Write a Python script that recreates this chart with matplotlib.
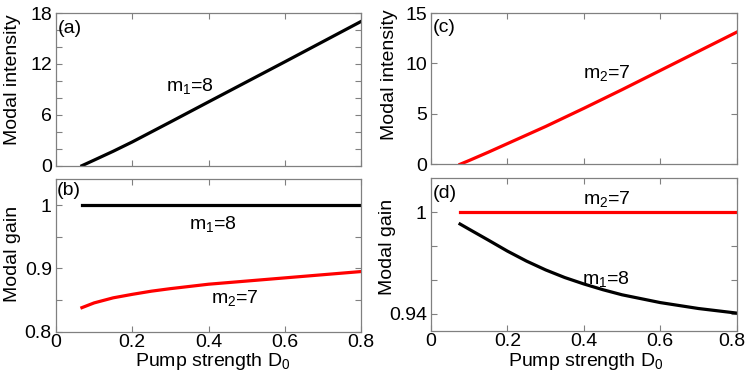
import matplotlib
matplotlib.use('Agg')
import matplotlib.pyplot as plt
from matplotlib.ticker import FixedLocator, FixedFormatter

plt.rcParams['font.family'] = ['Liberation Sans', 'DejaVu Sans']
plt.rcParams['mathtext.fontset'] = 'custom'
plt.rcParams['mathtext.rm'] = 'Liberation Sans'
plt.rcParams['mathtext.it'] = 'Liberation Sans:italic'
plt.rcParams['mathtext.default'] = 'regular'

# ---------------- data ----------------
# (a) modal intensity of m1=8
d0_a = [0.068, 0.1, 0.15, 0.2, 0.3, 0.4, 0.5, 0.6, 0.7, 0.8]
intensity_m1 = [0, 0.66, 1.7, 2.8, 5.15, 7.52, 9.88, 12.24, 14.62, 17.0]

# (b) modal gain, m1=8 (flat) and m2=7
d0_b_flat = [0.068, 0.8]
gain_b_m1 = [1.0, 1.0]
d0_b = [0.068, 0.1, 0.15, 0.2, 0.25, 0.3, 0.4, 0.5, 0.6, 0.7, 0.8]
gain_b_m2 = [0.838, 0.8455, 0.8535, 0.859, 0.864, 0.868, 0.875, 0.880,
             0.885, 0.890, 0.895]

# (c) modal intensity of m2=7
d0_c = [0.076, 0.1, 0.15, 0.2, 0.3, 0.4, 0.5, 0.6, 0.7, 0.8]
intensity_m2 = [0, 0.38, 1.2, 2.05, 3.75, 5.55, 7.4, 9.3, 11.2, 13.1]

# (d) modal gain, m2=7 (flat) and m1=8
d0_d_flat = [0.076, 0.8]
gain_d_m2 = [1.0, 1.0]
d0_d = [0.076, 0.1, 0.15, 0.2, 0.25, 0.3, 0.35, 0.4, 0.45, 0.5, 0.6, 0.7, 0.8]
gain_d_m1 = [0.993, 0.9899, 0.9835, 0.9770, 0.9711, 0.9659, 0.9614, 0.9576,
             0.9542, 0.9512, 0.9466, 0.9431, 0.9404]

x_ticks = [0, 0.2, 0.4, 0.6, 0.8]
x_ticklabels = ['0', '0.2', '0.4', '0.6', '0.8']

# ---------------- figure ----------------
W, H = 748, 375
fig = plt.figure(figsize=(W / 100, H / 100), dpi=100)

def rect(l, r, t, b):
    return [l / W, 1 - b / H, (r - l) / W, (b - t) / H]

def fpos(x, y):
    return x / W, 1 - y / H

GRAY = '#808080'
FS = 14
LW = 2.3

def style(ax, xlim, ylim, yticks, ylabels, xlabels):
    ax.set_xlim(*xlim)
    ax.set_ylim(*ylim)
    for s in ax.spines.values():
        s.set_color(GRAY)
        s.set_linewidth(0.9)
    ax.tick_params(direction='in', length=4, width=0.8, color=GRAY,
                   top=True, right=True, labelsize=FS, labelcolor='black')
    ax.tick_params(axis='y', pad=3)
    ax.tick_params(axis='x', pad=2)
    ax.xaxis.set_major_locator(FixedLocator(x_ticks))
    ax.xaxis.set_major_formatter(FixedFormatter(xlabels))
    ax.yaxis.set_major_locator(FixedLocator(yticks))
    ax.yaxis.set_major_formatter(FixedFormatter(ylabels))

blank_x = [''] * len(x_ticks)

# (a)
axa = fig.add_axes(rect(56, 361, 13, 165.7))
axa.plot(d0_a, intensity_m1, color='black', lw=LW)
style(axa, (0, 0.8), (0, 18), list(range(0, 19, 2)),
      ['0', '', '', '6', '', '', '12', '', '', '18'], blank_x)
axa.text(0.351, 9.4, 'm$_1$=8', fontsize=FS, ha='center', va='center')

# (b)
axb = fig.add_axes(rect(56, 361, 178.5, 331.7))
axb.plot(d0_b_flat, gain_b_m1, color='black', lw=LW)
axb.plot(d0_b, gain_b_m2, color='red', lw=LW)
style(axb, (0, 0.8), (0.8, 1.042), [0.8, 0.85, 0.9, 0.95, 1.0],
      ['0.8', '', '0.9', '', '1'], x_ticklabels)
axb.text(0.413, 0.97, 'm$_1$=8', fontsize=FS, ha='center', va='center')
axb.text(0.47, 0.853, 'm$_2$=7', fontsize=FS, ha='center', va='center')

# (c)
axc = fig.add_axes(rect(431, 736.7, 13, 164.3))
axc.plot(d0_c, intensity_m2, color='red', lw=LW)
style(axc, (0, 0.8), (0, 15), [0, 5, 10, 15], ['0', '5', '10', '15'], blank_x)
axc.text(0.459, 9.1, 'm$_2$=7', fontsize=FS, ha='center', va='center')

# (d)
axd = fig.add_axes(rect(431, 736.7, 178.3, 330.7))
axd.plot(d0_d_flat, gain_d_m2, color='red', lw=LW)
axd.plot(d0_d, gain_d_m1, color='black', lw=LW)
style(axd, (0, 0.8), (0.93, 1.02), [0.94, 0.96, 0.98, 1.0],
      ['0.94', '', '', '1'], x_ticklabels[:-1] + [''])
# last x tick label shifted left so it stays inside the figure
fig.text(*fpos(745, 333.5), x_ticklabels[-1], fontsize=FS,
         ha='right', va='top')
axd.text(0.459, 1.008, 'm$_2$=7', fontsize=FS, ha='center', va='center')
axd.text(0.459, 0.9604, 'm$_1$=8', fontsize=FS, ha='center', va='center')

# panel labels
for lab, x, y in [('(a)', 58, 20), ('(b)', 57, 182),
                  ('(c)', 433, 19), ('(d)', 433, 185)]:
    fig.text(*fpos(x, y), lab, fontsize=FS, ha='left', va='top')

# axis labels
fig.text(*fpos(12.5, 80), 'Modal intensity', rotation=90, fontsize=FS,
         ha='center', va='center')
fig.text(*fpos(12.5, 254), 'Modal gain', rotation=90, fontsize=FS,
         ha='center', va='center')
fig.text(*fpos(389, 75), 'Modal intensity', rotation=90, fontsize=FS,
         ha='center', va='center')
fig.text(*fpos(387.5, 247), 'Modal gain', rotation=90, fontsize=FS,
         ha='center', va='center')
fig.text(*fpos(212.5, 361), 'Pump strength D$_0$', fontsize=FS,
         ha='center', va='center')
fig.text(*fpos(585.5, 361), 'Pump strength D$_0$', fontsize=FS,
         ha='center', va='center')

fig.savefig('out.png', dpi=100)
